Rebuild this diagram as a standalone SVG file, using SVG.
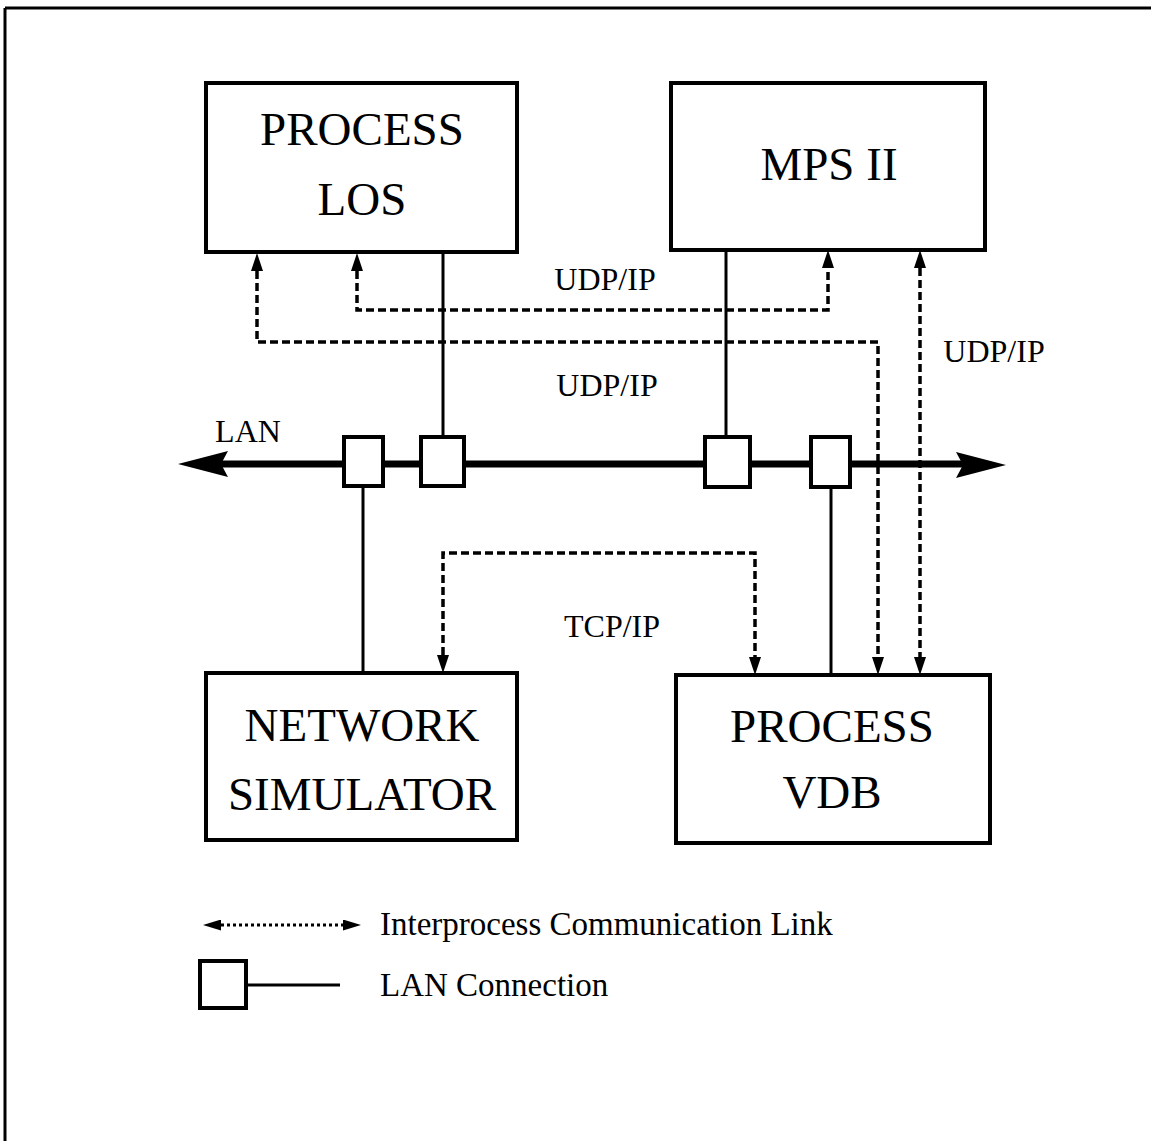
<svg xmlns="http://www.w3.org/2000/svg" width="1151" height="1141" viewBox="0 0 1151 1141">
<style>
.box{fill:#fff;stroke:#000;stroke-width:4}
.t{font-family:"Liberation Serif","Times New Roman",serif;fill:#000;text-anchor:middle}
.big{font-size:47px}
.lbl{font-size:32px}
.leg{font-size:33px;text-anchor:start}
.wire{stroke:#000;stroke-width:3;fill:none}
.ipc{stroke:#000;stroke-width:3.5;fill:none;stroke-dasharray:8 4;marker-start:url(#ah);marker-end:url(#ah)}
.lan{stroke:#000;stroke-width:7;fill:none}
.port{fill:#fff;stroke:#000;stroke-width:4}
</style>
<defs>
<marker id="ah" markerUnits="userSpaceOnUse" markerWidth="18" markerHeight="12" refX="0" refY="6" orient="auto-start-reverse" viewBox="0 0 18 12">
<path d="M0,0 L18,6 L0,12 z" fill="#000"/>
</marker>
<marker id="lah" markerUnits="userSpaceOnUse" markerWidth="18" markerHeight="11" refX="0" refY="5.5" orient="auto-start-reverse" viewBox="0 0 18 11">
<path d="M0,0 L18,5.5 L0,11 z" fill="#000"/>
</marker>
</defs>
<rect width="1151" height="1141" fill="#fff"/>
<g id="frame">
<line x1="5" y1="8" x2="1151" y2="8" stroke="#000" stroke-width="3"/>
<line x1="5" y1="8" x2="5" y2="1141" stroke="#000" stroke-width="3"/>
</g>
<g id="connectors">
<line class="wire" x1="443" y1="252" x2="443" y2="437"/>
<line class="wire" x1="726" y1="250" x2="726" y2="437"/>
<line class="wire" x1="363" y1="486" x2="363" y2="673"/>
<line class="wire" x1="831" y1="487" x2="831" y2="675"/>
<path class="ipc" d="M357,271 L357,310 L828,310 L828,268"/>
<path class="ipc" d="M257,271 L257,342 L878,342 L878,657"/>
<path class="ipc" d="M920,268 L920,657"/>
<path class="ipc" d="M443,655 L443,553 L755,553 L755,657"/>
</g>
<g id="lan">
<line class="lan" x1="215" y1="464" x2="970" y2="464"/>
<polygon points="178,464 228,451 221,464 228,477" fill="#000"/>
<polygon points="1006,465 956,452 963,465 956,478" fill="#000"/>
<rect class="port" x="344" y="437" width="39" height="49"/>
<rect class="port" x="421" y="437" width="43" height="49"/>
<rect class="port" x="705" y="437" width="45" height="50"/>
<rect class="port" x="811" y="437" width="39" height="50"/>
<text class="t lbl" x="248" y="442">LAN</text>
</g>
<g id="process-los">
<rect class="box" x="206" y="83" width="311" height="169"/>
<text class="t big" x="362" y="145">PROCESS</text>
<text class="t big" x="362" y="215">LOS</text>
</g>
<g id="mps-ii">
<rect class="box" x="671" y="83" width="314" height="167"/>
<text class="t big" x="829" y="180">MPS II</text>
</g>
<g id="network-simulator">
<rect class="box" x="206" y="673" width="311" height="167"/>
<text class="t big" x="362" y="741">NETWORK</text>
<text class="t big" x="362" y="810">SIMULATOR</text>
</g>
<g id="process-vdb">
<rect class="box" x="676" y="675" width="314" height="168"/>
<text class="t big" x="832" y="742">PROCESS</text>
<text class="t big" x="832" y="808">VDB</text>
</g>
<g id="labels">
<text class="t lbl" x="605" y="290">UDP/IP</text>
<text class="t lbl" x="607" y="396">UDP/IP</text>
<text class="t lbl" x="994" y="362">UDP/IP</text>
<text class="t lbl" x="612" y="637">TCP/IP</text>
</g>
<g id="legend">
<path d="M221,925 L343,925" stroke="#000" stroke-width="3" stroke-dasharray="3 3" fill="none" marker-start="url(#lah)" marker-end="url(#lah)"/>
<text class="t leg" x="380" y="935">Interprocess Communication Link</text>
<rect class="port" x="200" y="961" width="46" height="47"/>
<line class="wire" x1="246" y1="985" x2="340" y2="985"/>
<text class="t leg" x="380" y="996">LAN Connection</text>
</g>
</svg>
